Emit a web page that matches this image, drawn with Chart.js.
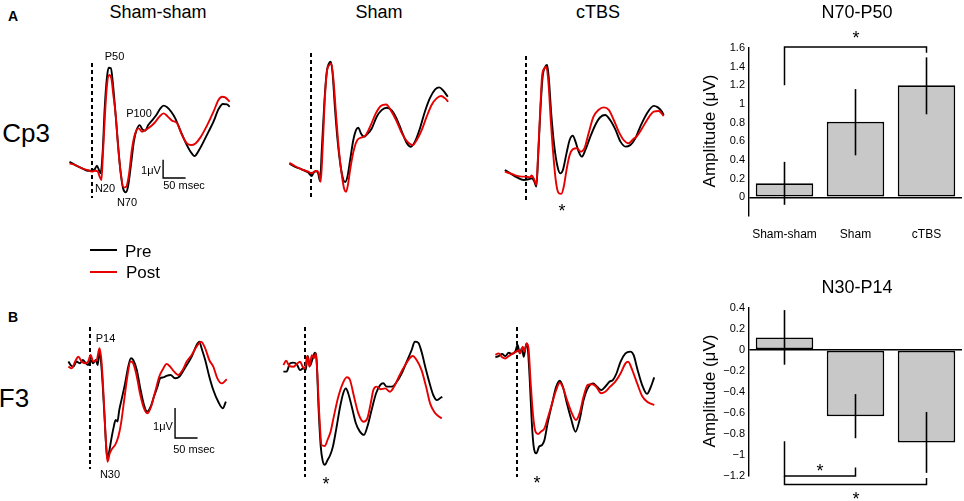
<!DOCTYPE html>
<html><head><meta charset="utf-8">
<script src="https://cdn.jsdelivr.net/npm/chart.js@4.4.1/dist/chart.umd.min.js"></script>
<style>
html,body{margin:0;padding:0;background:#fff;}
#root{position:relative;width:964px;height:501px;overflow:hidden;font-family:Arial,"Liberation Sans",sans-serif;color:#000;}
#root canvas{position:absolute;}
.t{position:absolute;white-space:nowrap;transform:translate(-50%,-50%);line-height:1.15;}
.l{position:absolute;white-space:nowrap;transform:translate(0,-50%);line-height:1.15;}
.ln{position:absolute;height:2px;}
</style></head><body><div id="root"></div>
<script>
// ---------- waveform data (time in ms, amplitude in µV) ----------
const a1PreT=[-50,-37,-22,-10,0,6,11,16,19,24,28,33,37,42,46,51,57,63,69,75,80,87,93,99,106,112,118,125,133,143,152,159,167,176,185,196,207,219,228,237,248,259,270,281,291,300,306];
const a1PreV=[0.45,0.27,0.09,-0.04,-0.04,0.04,0.24,-0.04,-0.18,1.09,3.27,5.0,5.58,5.55,4.82,3.45,1.64,0,-1.0,-1.22,-0.91,0.36,1.55,2.18,2.45,2.22,2.15,2.45,2.69,3.0,3.36,3.51,3.42,3.18,2.82,2.18,1.55,1.0,0.76,1.05,1.55,2.09,2.64,3.31,3.6,3.58,3.45];
const a1PostT=[-50,-37,-22,-10,0,7,13,17,21,24,29,33,38,43,47,53,58,64,70,76,82,89,96,104,111,119,128,138,150,159,167,178,189,200,211,220,230,241,256,270,281,289,296,306];
const a1PostV=[0.36,0.27,0.09,0,-0.09,-0.04,-0.09,-0.36,-0.55,0.73,3.09,4.55,5.18,5.0,4.18,2.91,1.27,-0.18,-0.95,-0.91,-0.27,1.18,2.0,2.27,2.09,2.18,2.33,2.55,2.91,3.09,2.95,2.69,2.55,1.91,1.45,1.36,1.45,1.78,2.45,3.18,3.82,4.0,3.96,3.73];

const a2PreT=[-48,-36,-21,-6,1.5,5,11,16,20,24,30,35,40,44,48,53,59,66,72,76,81,87,94,100,105,111,118,125,135,146,157,168,179,190,202,213,222,231,242,253,264,276,285,294,304];
const a2PreV=[0.45,0.27,0.13,-0.05,-0.24,-0.09,0.04,-0.09,-0.51,1.18,3.91,5.45,5.91,6.0,5.36,3.55,1.73,0.27,-0.45,-0.56,-0.27,0.64,1.73,2.27,2.4,2.09,1.91,2.05,2.36,3.0,3.36,3.49,3.36,2.91,2.18,1.55,1.36,1.64,2.36,3.27,4.0,4.49,4.6,4.42,4.09];
const a2PostT=[-48,-36,-21,-6,1.5,7,13,18,21.5,26,31,36,41,45,50,56,62,69,74,78,82,88,96,103,113,122,133,144,155,167,177,189,202,214,226,235,246,257,268,279,289,298,305];
const a2PostV=[0.49,0.31,0.13,0,-0.09,0,0.04,-0.13,-0.55,1.36,4.09,5.55,5.82,5.91,5.0,3.0,1.18,-0.27,-0.96,-1.09,-0.73,0.27,1.27,1.73,1.87,2.0,2.55,3.18,3.58,3.67,3.36,2.82,2.09,1.64,1.45,1.73,2.27,3.0,3.64,4.0,4.13,4.0,3.82];

const a3PreT=[-47,-35,-20,-5,6,13,18.5,23,27,32,37,43,47,51,56,63,70,76,82,90,97,104,110,117,124,132,143,154,165,176,187,199,210,221,232,243,254,269,284,293,302,306];
const a3PreV=[0.45,0.27,0.05,-0.09,-0.05,0,-0.18,-0.45,1.18,3.73,5.55,6.09,6.18,5.36,3.55,1.73,0.64,0.27,0.45,1.36,2.09,2.33,2.0,1.45,1.18,1.55,2.27,2.91,3.33,3.45,3.18,2.64,2.0,1.73,1.82,2.18,2.82,3.55,3.95,3.87,3.64,3.45];
const a3PostT=[-47,-35,-20,-9,0,8,13,18.5,23,27,32,36,41,45,50,55,61,67,73,78.5,84,90,97,104,113,122,130,139,150,161,173,184,195,206,217,228,238,247,258,269,284,295,306];
const a3PostV=[0.36,0.27,0.13,0.09,0.09,0.05,0.15,-0.09,-0.36,1.36,3.91,5.64,6.0,6.09,5.18,3.18,1.18,-0.27,-0.82,-0.85,-0.45,0.45,1.27,1.58,1.64,1.45,1.64,2.45,3.36,3.73,3.87,3.73,3.18,2.55,2.09,1.91,2.13,2.31,2.73,3.18,3.64,3.67,3.4];

const b1PreT=[-48,-43,-37,-30,-22,-16,-10,-4,1.5,7,13,17,21,26,31,36,38.5,42,47,52,57,61,65,70,78,85,91,96,104,111,120,127,135,142,150,156,163,170,179,189,199,206,215,226,237,243,248,256,265,274,285,295,302];
const b1PreV=[0.06,-0.06,-0.11,0.06,0,0.11,0.02,-0.06,0.11,0,0.11,-0.06,0.39,-0.22,-1.44,-2.78,-3.17,-3.0,-2.56,-2.17,-1.89,-1.94,-1.56,-1.22,-0.67,-0.11,0.17,0.11,-0.22,-0.78,-1.39,-1.61,-1.44,-1.11,-0.78,-0.5,-0.47,-0.42,-0.39,-0.5,-0.44,-0.28,-0.06,0.22,0.61,0.72,0.5,0.11,-0.44,-0.89,-1.28,-1.5,-1.28];
const b1PostT=[-48,-41,-33,-26,-18.5,-11,-4,1.5,7,15,21,26,31,36,39,44,50,56,63,69,76,83,90,96,104,111,120,128,137,145,154,163,170,178,187,196,206,215,226,237,247,256,265,274,283,293,304];
const b1PostV=[-0.11,-0.17,0.06,0.22,0.06,0,0.06,0.28,0.06,0.11,0.5,0,-1.33,-2.78,-3.28,-3.0,-2.83,-2.72,-2.44,-2.0,-1.22,-0.44,0.06,0,-0.44,-1.0,-1.5,-1.67,-1.39,-0.94,-0.44,-0.17,-0.02,-0.11,-0.28,-0.39,-0.22,0.06,0.28,0.56,0.72,0.5,0.11,-0.11,-0.5,-0.67,-0.53];

const b2PreT=[-48,-41,-33,-26,-18.5,-11,-4,1.5,6,11,17,22,26,30,35,39,44,50,56,62,69,78,85,91,96,104,113,122,131,138.5,148,158,167,174,181.5,193,204,215,226,237,244,252,259,269,278,285,293,300,305];
const b2PreV=[-0.22,-0.22,0.06,0.08,0.03,-0.17,-0.11,-0.17,0.3,-0.03,0.22,0.41,0.11,-1.39,-2.72,-3.17,-3.33,-3.17,-3.0,-2.72,-2.17,-1.39,-0.94,-0.78,-0.94,-1.39,-1.94,-2.22,-2.33,-2.06,-1.5,-0.94,-0.67,-0.61,-0.72,-0.72,-0.56,-0.28,0.11,0.5,0.78,0.74,0.44,-0.17,-0.67,-1.0,-1.17,-1.11,-1.06];
const b2PostT=[-48,-42,-35,-26,-18.5,-11,-5,0,5,10,15,20,24,27,32,37,44,50,57,64,74,84,93,100,109,118.5,130,138.5,146,152,159,168,178,189,198,207,218.5,230,239,248,259,269,278,287,296,304];
const b2PostV=[0,0.14,-0.03,-0.06,0.03,0.11,-0.06,-0.11,0.3,-0.06,0.33,0.22,0.39,-0.17,-1.72,-2.67,-2.7,-2.5,-2.22,-1.72,-1.06,-0.61,-0.41,-0.5,-1.06,-1.61,-1.89,-1.78,-1.28,-0.83,-0.72,-0.81,-0.78,-0.89,-0.72,-0.44,-0.11,0.17,0.3,0.17,-0.17,-0.72,-1.28,-1.56,-1.7,-1.78];

const b3PreT=[-48,-41,-33,-26,-18.5,-11,-4,1.5,6,11,15,21,24,28,33,37,43,49,56,61,68,78,87,95,102,111,120,130,139,148,159,169,178,187,196,206,213,221,230,241,252,259,268,278,289,296,305];
const b3PreV=[-0.02,0.02,0.09,0.02,0.13,0.09,0.17,0.39,0.11,0.28,0,0.44,0.28,-0.67,-2.22,-2.99,-3.22,-3.0,-2.94,-2.78,-2.22,-1.56,-1.0,-0.8,-1.0,-1.56,-2.06,-2.5,-2.11,-1.44,-1.0,-0.89,-1.0,-1.11,-1.0,-0.83,-0.78,-0.56,-0.17,0.11,0.17,0.06,-0.44,-0.94,-1.24,-1.06,-0.69];
const b3PostT=[-48,-41,-33,-26,-18.5,-9,-1.5,4,7,13,16,22,26,30,36,41,47,53,61,68,78,87,95,102,111,122,131,139,148,157,167,176,187,196,207,218.5,230,241,247,256,267,278,289,300,305];
const b3PostV=[0.06,0.11,-0.02,-0.06,0.02,0.11,0.17,0.22,0.11,0.33,0.17,0.44,0.22,-0.78,-2.0,-2.5,-2.58,-2.5,-2.39,-2.06,-1.56,-1.11,-0.87,-1.02,-1.44,-1.89,-2.11,-1.89,-1.33,-0.94,-0.92,-1.0,-1.22,-1.17,-1.0,-0.83,-0.56,-0.22,-0.17,-0.44,-0.89,-1.31,-1.5,-1.58,-1.61];

// ---------- bar chart data ----------
const barCats=['Sham-sham','Sham','cTBS'];
const n70p50Mean=[0.15,0.81,1.2];
const n70p50Lo=[-0.08,0.45,0.89];
const n70p50Hi=[0.38,1.16,1.5];
const n70p50Ticks=[0,0.2,0.4,0.6,0.8,1,1.2,1.4,1.6];
const n70p50TickLabels=['0','0.2','0.4','0.6','0.8','1','1.2','1.4','1.6'];
const n30p14Mean=[0.12,-0.63,-0.88];
const n30p14Lo=[-0.14,-0.84,-1.17];
const n30p14Hi=[0.38,-0.42,-0.59];
const n30p14Ticks=[-1.2,-1,-0.8,-0.6,-0.4,-0.2,0,0.2,0.4];
const n30p14TickLabels=['\u22121.2','\u22121','\u22120.8','\u22120.6','\u22120.4','\u22120.2','0','0.2','0.4'];

// ---------- setup ----------
Chart.defaults.font.family='Arial, "Liberation Sans", sans-serif';
Chart.defaults.color='#000';
const root=document.getElementById('root');
const RED='rgb(230,0,0)';
const PX_PER_MS=0.45, T_MIN=-60, T_MAX=320;
const pts=(t,v)=>t.map((x,i)=>({x:x,y:v[i]}));

function addCanvas(left,top,w,h){
  const c=document.createElement('canvas');
  c.width=w;c.height=h;
  c.style.left=left+'px';c.style.top=top+'px';c.style.width=w+'px';c.style.height=h+'px';
  root.appendChild(c);return c;
}

const panels=[
 {x0:91.7,y0:170,top:45,h:170,ppu:18.33,pre:[a1PreT,a1PreV],post:[a1PostT,a1PostV],dash:[5.84,-1.53],bar:[158,-0.44]},
 {x0:311,y0:171.7,top:45,h:170,ppu:18.33,pre:[a2PreT,a2PreV],post:[a2PostT,a2PostV],dash:[6.47,-1.38]},
 {x0:525.7,y0:178.3,top:45,h:170,ppu:18.33,pre:[a3PreT,a3PreV],post:[a3PostT,a3PostV],dash:[6.67,-1.18]},
 {x0:90,y0:363.3,top:310,h:180,ppu:30,pre:[b1PreT,b1PreV],post:[b1PostT,b1PostV],dash:[1.21,-3.52],bar:[189,-2.49]},
 {x0:305,y0:365,top:310,h:180,ppu:30,pre:[b2PreT,b2PreV],post:[b2PostT,b2PostV],dash:[1.27,-3.73]},
 {x0:516.7,y0:356.7,top:310,h:180,ppu:30,pre:[b3PreT,b3PreV],post:[b3PostT,b3PostV],dash:[0.99,-4.01]}
];

panels.forEach(p=>{
  const left=p.x0+T_MIN*PX_PER_MS;
  const w=Math.round((T_MAX-T_MIN)*PX_PER_MS);
  const c=addCanvas(left,p.top,w,p.h);
  const ds=[
    {data:pts(p.post[0],p.post[1]),borderColor:RED,borderWidth:1.9,pointRadius:0,cubicInterpolationMode:'monotone',order:0},
    {data:pts(p.pre[0],p.pre[1]),borderColor:'#000',borderWidth:1.9,pointRadius:0,cubicInterpolationMode:'monotone',order:1},
    {data:[{x:0,y:p.dash[0]},{x:0,y:p.dash[1]}],borderColor:'#000',borderWidth:2,borderDash:[4,3],pointRadius:0,order:2}
  ];
  if(p.bar){
    const [bt,bv]=p.bar;
    ds.push({data:[{x:bt,y:bv+1},{x:bt,y:bv},{x:bt+50,y:bv}],borderColor:'#000',borderWidth:1.4,pointRadius:0,tension:0,order:3});
  }
  new Chart(c,{type:'line',data:{datasets:ds},options:{
    responsive:false,animation:false,events:[],
    layout:{padding:0},
    plugins:{legend:{display:false},tooltip:{enabled:false}},
    scales:{
      x:{type:'linear',min:T_MIN,max:T_MAX,display:false},
      y:{min:(p.y0-p.top-p.h)/p.ppu,max:(p.y0-p.top)/p.ppu,display:false}
    }
  }});
});

// ---------- bar charts ----------
const barExtras={
  id:'barExtras',
  afterDatasetsDraw(chart,args,o){
    const ctx=chart.ctx, y=chart.scales.y, meta=chart.getDatasetMeta(0);
    ctx.save();ctx.strokeStyle='#000';ctx.lineWidth=1.6;
    o.lo.forEach((lo,i)=>{
      const px=meta.data[i].x;
      ctx.beginPath();ctx.moveTo(px,y.getPixelForValue(lo));ctx.lineTo(px,y.getPixelForValue(o.hi[i]));ctx.stroke();
    });
    ctx.lineWidth=1.5;
    o.brackets.forEach(b=>{
      const xa=meta.data[b.from].x, xb=meta.data[b.to].x;
      ctx.beginPath();
      ctx.moveTo(xa,y.getPixelForValue(b.start));
      ctx.lineTo(xa,y.getPixelForValue(b.bar));
      ctx.lineTo(xb,y.getPixelForValue(b.bar));
      ctx.lineTo(xb,y.getPixelForValue(b.end));
      ctx.stroke();
    });
    ctx.restore();
  }
};

function makeBar(cfg){
  const c=addCanvas(680,cfg.top,284,cfg.h);
  new Chart(c,{type:'bar',
    data:{labels:barCats,datasets:[{data:cfg.mean,backgroundColor:'#c8c8c8',borderColor:'#000',borderWidth:1.7,borderSkipped:false,barPercentage:0.81,categoryPercentage:1}]},
    plugins:[barExtras],
    options:{responsive:false,animation:false,events:[],
      layout:{padding:{top:48,right:2,left:0,bottom:cfg.showX?0:cfg.padBottom}},
      plugins:{legend:{display:false},tooltip:{enabled:false},
        barExtras:{lo:cfg.lo,hi:cfg.hi,brackets:cfg.brackets}},
      scales:{
        x:{display:cfg.showX,grid:{display:false,drawTicks:false},border:{display:false},
           ticks:{font:{size:12},padding:11,maxRotation:0},
           afterFit(s){s.height=cfg.showX?34:0;}},
        y:{min:cfg.min,max:cfg.max,
           afterBuildTicks(s){s.ticks=cfg.ticks.map(v=>({value:v}));},
           afterFit(s){s.width=69;},
           ticks:{font:{size:11},padding:4,callback:(v,i)=>cfg.tickLabels[i]},
           grid:{drawTicks:false,lineWidth:1.6,color:ctx=>(ctx.tick&&ctx.tick.value===0)?'#000':'rgba(0,0,0,0)'},
           border:{display:true,color:'#000',width:1.4}}
      }
    }
  });
}
makeBar({top:0,h:250,mean:n70p50Mean,lo:n70p50Lo,hi:n70p50Hi,min:-0.2,max:1.6,ticks:n70p50Ticks,tickLabels:n70p50TickLabels,showX:true,
  brackets:[{from:0,to:2,start:1.2,bar:1.61,end:1.55}]});
makeBar({top:260,h:241,mean:n30p14Mean,lo:n30p14Lo,hi:n30p14Hi,min:-1.2,max:0.4,ticks:n30p14Ticks,tickLabels:n30p14TickLabels,showX:false,padBottom:25,
  brackets:[{from:0,to:1,start:-0.87,bar:-1.2,end:-1.12},{from:0,to:2,start:-1.2,bar:-1.28,end:-1.22}]});

// ---------- text ----------
const texts=[
 ['A',13,16,14,'bold'],['B',13,317,14,'bold'],
 ['Sham-sham',158,12,18],['Sham',379,12,18],['cTBS',598,12,18],['N70-P50',857,12,18],['N30-P14',857,287,18],
 ['Cp3',26,134,26],['F3',14,399,26],
 ['P50',114.5,56,11],['P100',139,113,11],['N20',105,188,11],['N70',127,202,11],
 ['1\u03bcV',151,170,11],['50 msec',184,185,11],
 ['P14',105.5,338,11],['N30',110,474,11],['1\u03bcV',163,426,11],['50 msec',194,449,11],
 ['*',562,211,18],['*',326,484,18],['*',537,483,18],['*',856,38,18],['*',820,471,18],['*',856,499,18]
];
texts.forEach(([s,x,y,fs,fw])=>{
  const d=document.createElement('div');d.className='t';d.textContent=s;
  d.style.left=x+'px';d.style.top=y+'px';d.style.fontSize=fs+'px';if(fw)d.style.fontWeight=fw;
  root.appendChild(d);
});
[['Pre',125,252,'#000',250],['Post',126,273,RED,271.5]].forEach(([s,x,y,col,ly])=>{
  const d=document.createElement('div');d.className='l';d.textContent=s;
  d.style.left=x+'px';d.style.top=y+'px';d.style.fontSize='17px';root.appendChild(d);
  const l=document.createElement('div');l.className='ln';l.style.left='90px';l.style.width='27px';
  l.style.top=(ly-1)+'px';l.style.background=col;root.appendChild(l);
});
[['Amplitude (\u03bcV)',710,131],['Amplitude (\u03bcV)',710,391]].forEach(([s,x,y])=>{
  const d=document.createElement('div');d.className='t';d.textContent=s;
  d.style.left=x+'px';d.style.top=y+'px';d.style.fontSize='17px';
  d.style.transform='translate(-50%,-50%) rotate(-90deg)';root.appendChild(d);
});
</script></body></html>
